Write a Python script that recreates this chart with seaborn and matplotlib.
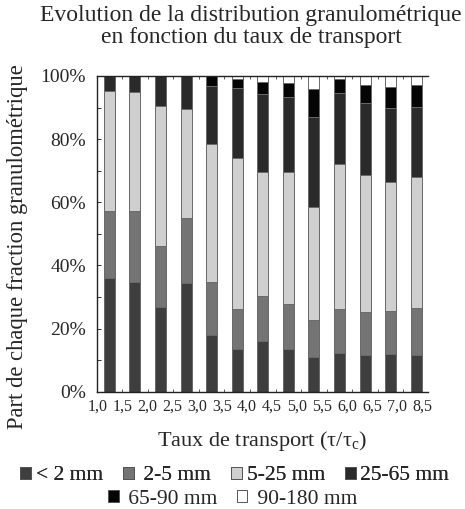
import matplotlib
matplotlib.use("Agg")
import matplotlib.pyplot as plt
import numpy as np
import pandas as pd
import seaborn as sns
from matplotlib.patches import Patch
from matplotlib.ticker import FixedLocator

# ---- data ----
tick_labels = ["1,0", "1,5", "2,0", "2,5", "3,0", "3,5", "4,0",
               "4,5", "5,0", "5,5", "6,0", "6,5", "7,0", "8,5"]
bar_ids = list(range(1, 14))  # 13 bars drawn in the figure

frac_lt2 = [35.9, 34.8, 26.7, 34.5, 18.0, 13.6, 16.0, 13.4, 10.9, 12.4, 11.7, 11.9, 11.6]
frac_2_5 = [21.4, 22.5, 19.5, 20.5, 16.8, 12.6, 14.4, 14.3, 11.8, 13.7, 13.6, 13.8, 14.8]
frac_5_25 = [38.0, 37.7, 44.4, 34.4, 43.6, 47.9, 39.3, 42.0, 35.9, 45.9, 43.3, 40.7, 41.7]
frac_25_65 = [4.7, 5.0, 9.4, 10.6, 18.4, 22.0, 24.6, 23.5, 28.5, 22.5, 22.9, 23.6, 22.0]
frac_65_90 = [0.0, 0.0, 0.0, 0.0, 3.2, 2.9, 3.9, 4.7, 8.7, 4.5, 5.5, 6.6, 6.9]
frac_90_180 = [0.0, 0.0, 0.0, 0.0, 0.0, 1.0, 1.8, 2.1, 4.2, 1.0, 3.0, 3.4, 3.0]

y_ticks = [0, 20, 40, 60, 80, 100]
y_minor = [10, 30, 50, 70, 90]

fractions = ["< 2 mm", "2-5 mm", "5-25 mm", "25-65 mm", "65-90 mm", "90-180 mm"]
legend_text = ["< 2 mm", " 2-5 mm", "5-25 mm", "25-65 mm", " 65-90 mm", " 90-180 mm"]
colors = ["#3e3e3e", "#747474", "#cfcfcf", "#2a2a2a", "#050505", "#ffffff"]

values = [frac_lt2, frac_2_5, frac_5_25, frac_25_65, frac_65_90, frac_90_180]

# ---- style ----
sns.set_style("ticks")
plt.rcParams["font.family"] = ["Liberation Serif", "DejaVu Serif"]
plt.rcParams["mathtext.fontset"] = "custom"
plt.rcParams["mathtext.rm"] = "Liberation Serif"
plt.rcParams["mathtext.it"] = "Liberation Serif:italic"
plt.rcParams["mathtext.default"] = "regular"

W, H = 465, 509
fig = plt.figure(figsize=(W / 100, H / 100), dpi=100)
ax = fig.add_axes([97 / W, 1 - 391.7 / H, (428 - 97) / W, (391.7 - 76) / H])

df = pd.DataFrame({"bar": bar_ids})
cum = np.zeros(len(bar_ids))
for name, v in zip(fractions, values):
    cum = cum + np.array(v)
    df["cum_" + name] = cum

# draw cumulative layers from the top down
for name, color in reversed(list(zip(fractions, colors))):
    sns.barplot(data=df, x="bar", y="cum_" + name, color=color, saturation=1,
                width=0.43, edgecolor="#6a6a6a", linewidth=0.7,
                errorbar=None, ax=ax)

# ---- axes ----
ax.set_xlim(-0.48, 12.46)
label_pos = [-0.47 + 0.977 * i for i in range(len(tick_labels))]
ax.xaxis.set_major_locator(FixedLocator(label_pos))
ax.set_xticklabels(tick_labels, fontsize=11.5)
ax.xaxis.set_minor_locator(FixedLocator([i + 0.5 for i in range(12)]))
ax.tick_params(axis="x", which="major", length=0, pad=5)
ax.tick_params(axis="x", which="minor", direction="in", length=2.5, width=0.7,
               top=True, bottom=True, color="#555555")

ax.set_yticks(y_ticks)
ax.set_yticks(y_minor, minor=True)
ax.set_yticklabels([f"{t}%" for t in y_ticks], fontsize=14)
ax.set_ylim(0, 100)
ax.tick_params(axis="y", which="both", direction="in", length=3, width=0.7,
               color="#333333", pad=8)

for s in ["left", "bottom", "top"]:
    ax.spines[s].set_visible(True)
    ax.spines[s].set_linewidth(1.0)
    ax.spines[s].set_color("#222222")
ax.spines["right"].set_visible(False)

ax.set_xlabel(r"Taux de transport (τ/τ$_{c}$)", fontsize=16, labelpad=10)
ax.set_ylabel("Part de chaque fraction granulométrique", fontsize=16.3)
ax.yaxis.set_label_coords(-0.207, 0.458)

fig.text(0.54, 1 - 16 / H, "Evolution de la distribution granulométrique",
         ha="center", va="center", fontsize=17)
fig.text(0.54, 1 - 38 / H, "en fonction du taux de transport",
         ha="center", va="center", fontsize=17)

handles = [Patch(facecolor=c, edgecolor="#555555", linewidth=0.7) for c in colors]
leg1 = fig.legend(handles[:4], legend_text[:4], loc="center",
                  bbox_to_anchor=(0.505, 1 - 476 / H), ncol=4, frameon=False,
                  fontsize=15.5, handlelength=0.5, handleheight=0.5,
                  handletextpad=0.2, columnspacing=0.95, borderpad=0)
leg2 = fig.legend(handles[4:], legend_text[4:], loc="center",
                  bbox_to_anchor=(0.5, 1 - 499 / H), ncol=2, frameon=False,
                  fontsize=15.5, handlelength=0.5, handleheight=0.5,
                  handletextpad=0.2, columnspacing=0.9, borderpad=0)
fig.add_artist(leg1)

fig.savefig("out.png", dpi=100)
